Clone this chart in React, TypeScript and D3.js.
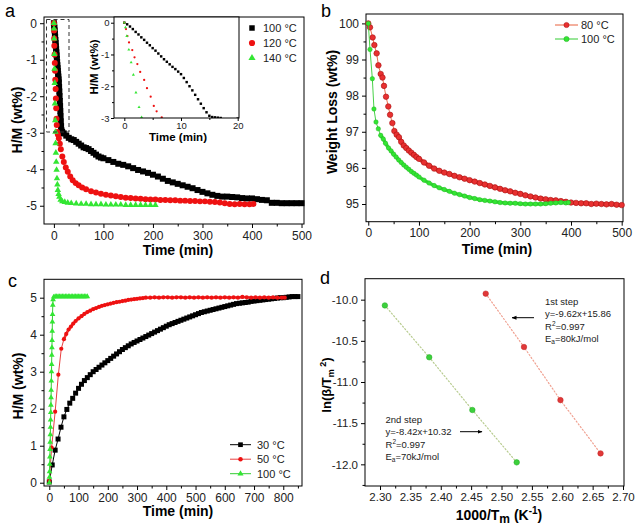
import { useEffect, useRef } from 'react';
import * as d3 from 'd3';

type Pt = [number, number];

const FONT = '"Liberation Sans", Arial, Helvetica, sans-serif';

// ---------- (a) dehydrogenation curves ----------
const aLabels = ['100 °C', '120 °C', '140 °C'];
const a100: Pt[] = [
  [0, 0], [0.5, -0.05], [1, -0.12], [1.5, -0.2], [2, -0.29], [2.5, -0.37], [3, -0.46], [3.5, -0.54],
  [4, -0.63], [4.5, -0.71], [5, -0.8], [5.5, -0.88], [6, -0.97], [6.5, -1.06], [7, -1.15], [7.5, -1.23],
  [8, -1.31], [8.5, -1.39], [9, -1.46], [9.5, -1.54], [10, -1.62], [10.5, -1.74], [11, -1.87], [11.5, -2.0],
  [12, -2.13], [12.5, -2.27], [13, -2.41], [13.5, -2.55], [14, -2.69], [14.5, -2.82], [15, -2.93],
  [15.5, -2.97], [16, -2.98], [16.5, -2.99], [17, -3.0],
  [20, -3.02], [25, -3.08], [30, -3.14], [35, -3.18], [40, -3.2], [45, -3.25], [50, -3.3], [55, -3.35],
  [60, -3.4], [65, -3.42], [70, -3.45], [75, -3.5], [80, -3.55], [85, -3.6], [90, -3.65], [95, -3.68],
  [100, -3.7], [110, -3.75], [120, -3.8], [130, -3.85], [140, -3.88], [150, -3.92], [160, -3.97],
  [170, -4.02], [180, -4.06], [190, -4.1], [200, -4.15], [210, -4.2], [220, -4.26], [230, -4.32],
  [240, -4.36], [250, -4.4], [260, -4.44], [270, -4.48], [280, -4.52], [290, -4.57], [300, -4.62],
  [310, -4.66], [320, -4.7], [330, -4.73], [340, -4.75], [350, -4.75], [360, -4.76], [370, -4.77],
  [380, -4.79], [390, -4.8], [400, -4.8], [410, -4.82], [420, -4.84], [430, -4.85], [440, -4.92],
  [450, -4.92], [460, -4.93], [470, -4.93], [480, -4.93], [490, -4.93], [500, -4.93],
];
const a120: Pt[] = [
  [0, 0], [0.3, -0.2], [0.55, -0.42], [0.83, -0.62], [1.4, -0.86], [1.8, -1.09], [2.3, -1.3], [2.8, -1.55],
  [3.5, -1.8], [4.0, -2.06], [4.65, -2.33], [5.2, -2.62], [5.7, -2.79], [6.6, -2.98], [8, -3.05], [10, -3.15],
  [12, -3.3], [14, -3.45], [17, -3.65], [20, -3.8], [24, -3.95], [28, -4.07], [33, -4.2], [38, -4.3],
  [44, -4.38], [50, -4.44], [57, -4.5], [65, -4.55], [75, -4.6], [85, -4.64], [95, -4.67], [105, -4.7],
  [115, -4.72], [125, -4.74], [135, -4.76], [145, -4.78], [155, -4.79], [165, -4.8], [175, -4.81],
  [185, -4.82], [195, -4.83], [205, -4.83], [215, -4.84], [225, -4.84], [235, -4.85], [245, -4.85],
  [255, -4.86], [265, -4.86], [275, -4.87], [285, -4.87], [295, -4.88], [305, -4.88], [315, -4.89],
  [325, -4.9], [335, -4.91], [345, -4.93], [355, -4.95], [365, -4.96], [375, -4.95], [385, -4.96],
  [395, -4.96], [403, -4.95],
];
const a140: Pt[] = [
  [0, 0], [0.2, -0.15], [0.45, -0.42], [0.8, -0.85], [1.2, -1.25], [1.6, -1.64], [2.05, -2.2], [2.6, -2.66],
  [3.05, -2.98], [3.4, -3.29], [4, -3.55], [4.7, -3.8], [5.4, -4.02], [6.2, -4.25], [7, -4.42], [8, -4.57],
  [9.5, -4.68], [11, -4.76], [13.5, -4.84], [17, -4.88], [22, -4.9], [28, -4.92], [35, -4.93], [45, -4.94],
  [55, -4.95], [65, -4.95], [75, -4.96], [85, -4.96], [95, -4.96], [105, -4.97], [115, -4.97], [125, -4.97],
  [135, -4.97], [145, -4.98], [155, -4.98], [165, -4.98], [175, -4.98], [185, -4.98], [195, -4.98], [205, -4.98],
];
const aXTicks = [0, 100, 200, 300, 400, 500];
const aXMinor = [50, 150, 250, 350, 450];
const aYTicks = [0, -1, -2, -3, -4, -5];
const aYMinor = [-0.5, -1.5, -2.5, -3.5, -4.5];
const inXTicks = [0, 10, 20];
const inXMinor = [5, 15];
const inYTicks = [0, -1, -2, -3];
const inYMinor = [-0.5, -1.5, -2.5];

// ---------- (b) weight loss ----------
const bLabels = ['80 °C', '100 °C'];
const b80: Pt[] = [
  [0, 100], [3.4, 99.89], [8.6, 99.61], [12, 99.4], [16.5, 99.17], [20, 98.84], [24.5, 98.6], [28, 98.5],
  [31, 98.27], [35, 97.97], [39.5, 97.7], [43, 97.47], [47.5, 97.24], [51.5, 97.02], [56, 96.92], [60.5, 96.85],
  [65, 96.72], [70, 96.62], [75, 96.55], [80, 96.48], [85, 96.42], [90, 96.36], [95, 96.3], [100, 96.25],
  [110, 96.15], [120, 96.06], [130, 95.98], [140, 95.92], [150, 95.87], [160, 95.83], [170, 95.78],
  [180, 95.74], [190, 95.7], [200, 95.66], [210, 95.62], [220, 95.58], [230, 95.54], [240, 95.5],
  [250, 95.46], [260, 95.42], [270, 95.38], [280, 95.35], [290, 95.31], [300, 95.28], [310, 95.24],
  [320, 95.21], [330, 95.18], [340, 95.15], [350, 95.13], [360, 95.11], [370, 95.1], [380, 95.08],
  [390, 95.06], [400, 95.04], [410, 95.03], [420, 95.02], [430, 95.02], [440, 95.0], [450, 95.01],
  [460, 95.0], [470, 94.99], [480, 95.0], [490, 94.98], [500, 94.97],
];
const b100: Pt[] = [
  [0, 100], [3.4, 99.28], [8, 98.47], [11.2, 97.63], [15.2, 97.27], [19.8, 97.08], [24.5, 96.9], [29.6, 96.8],
  [34, 96.68], [40, 96.55], [45, 96.47], [50, 96.38], [55, 96.3], [60, 96.22], [65, 96.15], [70, 96.08],
  [75, 96.02], [80, 95.96], [85, 95.9], [90, 95.85], [95, 95.8], [100, 95.75], [110, 95.66], [120, 95.58],
  [130, 95.51], [140, 95.45], [150, 95.4], [160, 95.35], [170, 95.3], [180, 95.26], [190, 95.22],
  [200, 95.18], [210, 95.15], [220, 95.12], [230, 95.1], [240, 95.08], [250, 95.06], [260, 95.04],
  [270, 95.03], [280, 95.02], [290, 95.02], [300, 95.01], [310, 95.0], [320, 95.0], [330, 95.0],
  [340, 95.0], [350, 95.01], [360, 95.02], [370, 95.03], [380, 95.04], [390, 95.03], [395, 95.04],
];
const bXTicks = [0, 100, 200, 300, 400, 500];
const bXMinor = [50, 150, 250, 350, 450];
const bYTicks = [95, 96, 97, 98, 99, 100];
const bYMinor = [95.5, 96.5, 97.5, 98.5, 99.5];

// ---------- (c) hydrogenation ----------
const cLabels = ['30 °C', '50 °C', '100 °C'];
const c30: Pt[] = [
  [0, 0.02], [10, 0.48], [20, 0.88], [30, 1.18], [40, 1.5], [50, 1.78], [60, 1.98], [70, 2.15], [80, 2.28],
  [90, 2.42], [100, 2.55], [110, 2.66], [120, 2.76], [130, 2.84], [140, 2.92], [150, 3.0], [160, 3.06],
  [170, 3.12], [180, 3.18], [190, 3.24], [200, 3.3], [210, 3.36], [220, 3.42], [230, 3.48], [240, 3.54],
  [250, 3.6], [260, 3.65], [270, 3.7], [280, 3.75], [290, 3.79], [300, 3.83], [310, 3.87], [320, 3.91],
  [330, 3.95], [340, 3.99], [350, 4.03], [360, 4.07], [370, 4.11], [380, 4.15], [390, 4.19], [400, 4.23],
  [410, 4.27], [420, 4.3], [430, 4.33], [440, 4.36], [450, 4.39], [460, 4.42], [470, 4.45], [480, 4.48],
  [490, 4.51], [500, 4.54], [510, 4.57], [520, 4.6], [530, 4.62], [540, 4.64], [550, 4.66], [560, 4.68],
  [570, 4.7], [580, 4.72], [590, 4.74], [600, 4.76], [610, 4.78], [620, 4.8], [630, 4.82], [640, 4.84],
  [650, 4.85], [660, 4.86], [670, 4.87], [680, 4.88], [690, 4.9], [700, 4.91], [710, 4.92], [720, 4.93],
  [730, 4.94], [740, 4.95], [750, 4.96], [760, 4.97], [770, 4.98], [780, 4.99], [790, 5.0], [800, 5.0],
  [810, 5.01], [820, 5.02], [830, 5.03], [840, 5.03], [850, 5.03],
];
const c50: Pt[] = [
  [0, 0.05], [8, 0.95], [20, 1.92], [31, 2.92], [41, 3.62], [50, 3.88], [58, 4.02], [66, 4.14], [74, 4.22],
  [82, 4.3], [90, 4.37], [100, 4.44], [110, 4.5], [120, 4.56], [130, 4.61], [140, 4.65], [150, 4.69],
  [160, 4.72], [170, 4.75], [180, 4.78], [190, 4.8], [200, 4.82], [210, 4.84], [220, 4.86], [230, 4.88],
  [240, 4.89], [250, 4.91], [260, 4.92], [270, 4.94], [280, 4.95], [290, 4.96], [300, 4.97], [310, 4.98],
  [320, 4.99], [330, 5.0], [345, 5.0], [360, 5.01], [375, 5.0], [390, 5.01], [405, 5.01], [420, 5.0],
  [435, 5.01], [450, 5.01], [465, 5.0], [480, 5.01], [495, 5.0], [510, 5.01], [525, 5.0], [540, 5.01],
  [555, 5.0], [570, 5.01], [585, 5.0], [600, 5.01], [615, 5.0], [630, 5.01], [645, 5.0], [660, 5.02],
  [675, 5.01], [690, 5.0], [705, 5.01], [720, 5.0], [735, 5.01], [750, 5.0], [765, 5.01], [780, 5.0],
  [795, 5.0], [805, 5.0],
];
const c100: Pt[] = [
  [0, 0], [0.5, 0.15], [1, 0.3], [1.5, 0.5], [2, 0.7], [2.5, 0.9], [3, 1.1], [3.5, 1.3], [4, 1.5], [4.5, 1.7],
  [5, 1.9], [5.5, 2.1], [6, 2.3], [6.5, 2.5], [7, 2.75], [7.5, 3.0], [8, 3.2], [8.5, 3.45], [9, 3.65],
  [9.5, 3.85], [10, 4.1], [10.5, 4.35], [11, 4.55], [12, 4.8], [13, 4.95], [15, 5.02], [20, 5.03], [25, 5.03],
  [30, 5.03], [35, 5.03], [40, 5.03], [45, 5.03], [50, 5.03], [55, 5.03], [60, 5.03], [65, 5.03], [70, 5.03],
  [75, 5.03], [80, 5.03], [85, 5.03], [90, 5.03], [95, 5.03], [100, 5.03], [105, 5.03], [110, 5.03],
  [115, 5.03], [120, 5.03], [125, 5.03], [130, 5.03],
];
const cXTicks = [0, 100, 200, 300, 400, 500, 600, 700, 800];
const cXMinor = [50, 150, 250, 350, 450, 550, 650, 750, 850];
const cYTicks = [0, 1, 2, 3, 4, 5];
const cYMinor = [0.5, 1.5, 2.5, 3.5, 4.5];

// ---------- (d) Kissinger plot ----------
const dStep1: Pt[] = [[2.474, -9.927], [2.537, -10.575], [2.597, -11.22], [2.663, -11.867]];
const dStep2: Pt[] = [[2.308, -10.07], [2.381, -10.7], [2.452, -11.34], [2.525, -11.976]];
const dXTicks = [2.3, 2.35, 2.4, 2.45, 2.5, 2.55, 2.6, 2.65, 2.7];
const dXMinor = [2.325, 2.375, 2.425, 2.475, 2.525, 2.575, 2.625, 2.675];
const dYTicks = [-10, -10.5, -11, -11.5, -12];
const dYMinor = [-10.25, -10.75, -11.25, -11.75, -12.25];
const step1Text = ['1st step', 'y=-9.62x+15.86', 'R2=0.997', 'Ea=80kJ/mol'];
const step2Text = ['2nd step', 'y=-8.42x+10.32', 'R2=0.997', 'Ea=70kJ/mol'];

const BLACK = '#000';
const RED = '#ee1111';
const GREEN = '#33e633';

type G = d3.Selection<SVGGElement, unknown, null, undefined>;
type Lin = d3.ScaleLinear<number, number>;

const hy = (s: string) => s.replace(/\u2212/g, '-');

function axes(g: G, x: Lin, y: Lin, xt: number[], xm: number[], yt: number[], ym: number[],
  xf: (d: number) => string, yf: (d: number) => string, fs = 12, major = 4, minor = 2.5, pad = 3) {
  const [x0, x1] = x.range();
  const [y0, y1] = y.range();
  const style = (a: G) => {
    a.select('.domain').remove();
    a.attr('font-size', fs).attr('font-family', FONT);
    a.selectAll('.tick text').attr('fill', '#222');
    a.selectAll('.tick line').attr('stroke', '#000');
  };
  const bx = g.append('g').attr('transform', `translate(0,${y0})`);
  bx.call(d3.axisBottom(x).tickValues(xt).tickFormat((d) => xf(+d)).tickSize(major).tickPadding(pad).tickSizeOuter(0));
  style(bx);
  const bm = g.append('g').attr('transform', `translate(0,${y0})`);
  bm.call(d3.axisBottom(x).tickValues(xm).tickFormat(() => '').tickSize(minor).tickSizeOuter(0));
  style(bm);
  const ly = g.append('g').attr('transform', `translate(${x0},0)`);
  ly.call(d3.axisLeft(y).tickValues(yt).tickFormat((d) => yf(+d)).tickSize(major).tickPadding(pad).tickSizeOuter(0));
  style(ly);
  const lm = g.append('g').attr('transform', `translate(${x0},0)`);
  lm.call(d3.axisLeft(y).tickValues(ym).tickFormat(() => '').tickSize(minor).tickSizeOuter(0));
  style(lm);
  g.append('rect').attr('x', x0).attr('y', y1).attr('width', x1 - x0).attr('height', y0 - y1)
    .attr('fill', 'none').attr('stroke', '#000').attr('stroke-width', 1);
}

function marks(g: G, data: Pt[], x: Lin, y: Lin, type: d3.SymbolType, size: number,
  fill: string, stroke = 'none', sw = 0) {
  const p = d3.symbol().type(type).size(size)() as string;
  g.append('g').selectAll('path').data(data).join('path')
    .attr('d', p)
    .attr('transform', (d) => `translate(${x(d[0])},${y(d[1])})`)
    .attr('fill', fill).attr('stroke', stroke).attr('stroke-width', sw);
}

function trace(g: G, data: Pt[], x: Lin, y: Lin, color: string, sw = 0.8, dash = '') {
  const line = d3.line<Pt>().x((d) => x(d[0])).y((d) => y(d[1]));
  g.append('path').attr('d', line(data) as string).attr('fill', 'none')
    .attr('stroke', color).attr('stroke-width', sw).attr('stroke-dasharray', dash || null)
    .attr('stroke-linejoin', 'round').attr('stroke-linecap', 'round');
}

function text(g: G, x: number, y: number, s: string, fs: number, opts: { bold?: boolean; anchor?: string; rot?: boolean; fill?: string } = {}) {
  return g.append('text')
    .attr('transform', opts.rot ? `translate(${x},${y}) rotate(-90)` : `translate(${x},${y})`)
    .attr('font-family', FONT).attr('font-size', fs)
    .attr('font-weight', opts.bold ? 'bold' : 'normal')
    .attr('text-anchor', opts.anchor || 'start')
    .attr('fill', opts.fill || '#000')
    .text(s);
}

export default function App() {
  const ref = useRef<SVGSVGElement | null>(null);

  useEffect(() => {
    if (!ref.current) return;
    const svg = d3.select(ref.current);
    svg.selectAll('*').remove();
    const defs = svg.append('defs');
    const root = svg.append('g') as unknown as G;
    const f0 = (d: number) => hy(String(d));

    // ===== panel a =====
    const ga = root.append('g');
    const xa = d3.scaleLinear().domain([-20, 505]).range([44, 304]);
    const ya = d3.scaleLinear().domain([-5.5, 0.17]).range([224, 17]);
    axes(ga, xa, ya, aXTicks, aXMinor, aYTicks, aYMinor, f0, f0);
    marks(ga, a100, xa, ya, d3.symbolSquare, 36, BLACK);
    marks(ga, a120, xa, ya, d3.symbolCircle, 28, RED);
    marks(ga, a140, xa, ya, d3.symbolTriangle, 18, GREEN);
    ga.append('rect').attr('x', 46.5).attr('y', 19.5).attr('width', 22.5).attr('height', 112.5)
      .attr('fill', 'none').attr('stroke', '#333').attr('stroke-width', 1).attr('stroke-dasharray', '4,3');
    text(ga, 5, 17, 'a', 18);
    text(ga, 22, 120, 'H/M (wt%)', 14, { bold: true, anchor: 'middle', rot: true });
    text(ga, 178, 255, 'Time (min)', 14, { bold: true, anchor: 'middle' });
    const aSyms = [d3.symbolSquare, d3.symbolCircle, d3.symbolTriangle];
    const aCols = [BLACK, RED, GREEN];
    aLabels.forEach((lab, i) => {
      const yy = 28 + i * 15;
      ga.append('path').attr('d', d3.symbol().type(aSyms[i]).size(i === 2 ? 22 : 30)() as string)
        .attr('transform', `translate(252,${yy})`).attr('fill', aCols[i]);
      text(ga, 263, yy + 4, lab, 11, { fill: '#222' });
    });

    // inset
    const gi = ga.append('g');
    const xi = d3.scaleLinear().domain([-1.82, 20.23]).range([114, 239]);
    const yi = d3.scaleLinear().domain([-3, 0.18]).range([118, 17]);
    gi.append('rect').attr('x', 114).attr('y', 17).attr('width', 125).attr('height', 101).attr('fill', '#fff');
    defs.append('clipPath').attr('id', 'insetClip')
      .append('rect').attr('x', 114).attr('y', 17).attr('width', 125).attr('height', 101);
    const gic = gi.append('g').attr('clip-path', 'url(#insetClip)');
    const inset = (arr: Pt[]) => arr.filter((d) => d[0] <= 21 && d[1] >= -3.05);
    marks(gic, inset(a100), xi, yi, d3.symbolSquare, 6, BLACK);
    marks(gic, inset(a120), xi, yi, d3.symbolCircle, 4, RED);
    marks(gic, inset(a140), xi, yi, d3.symbolTriangle, 4, GREEN);
    axes(gi, xi, yi, inXTicks, inXMinor, inYTicks, inYMinor, f0, f0, 9.5, 3, 2, 1.5);
    text(gi, 98, 67, 'H/M (wt%)', 11.5, { bold: true, anchor: 'middle', rot: true });
    text(gi, 178, 141, 'Time (min)', 11.5, { bold: true, anchor: 'middle' });

    // ===== panel b =====
    const gb = root.append('g');
    const xb = d3.scaleLinear().domain([-4.5, 502.6]).range([366, 623]);
    const yb = d3.scaleLinear().domain([94.51, 100.26]).range([221.7, 14]);
    axes(gb, xb, yb, bXTicks, bXMinor, bYTicks, bYMinor, f0, f0);
    // dense part of each record reads as a band
    trace(gb, b80.filter((d) => d[0] >= 56), xb, yb, '#e83a30', 4);
    trace(gb, b80, xb, yb, '#e8603c', 0.9);
    marks(gb, b80, xb, yb, d3.symbolCircle, 24, '#e83030', '#a81010', 0.6);
    trace(gb, b100.filter((d) => d[0] >= 24), xb, yb, '#3ce03c', 3.5);
    trace(gb, b100, xb, yb, '#33cc33', 0.9);
    marks(gb, b100, xb, yb, d3.symbolCircle, 16, GREEN, '#22aa22', 0.4);
    text(gb, 321, 17, 'b', 18);
    text(gb, 337, 112, 'Weight Loss (wt%)', 14, { bold: true, anchor: 'middle', rot: true });
    text(gb, 497, 254, 'Time (min)', 14, { bold: true, anchor: 'middle' });
    const bCols: [string, string, string][] = [['#e8603c', '#e83030', '#a81010'], ['#33cc33', GREEN, '#22aa22']];
    bLabels.forEach((lab, i) => {
      const yy = 25 + i * 14;
      gb.append('line').attr('x1', 555).attr('x2', 578).attr('y1', yy).attr('y2', yy).attr('stroke', bCols[i][0]).attr('stroke-width', 1);
      gb.append('circle').attr('cx', 566.5).attr('cy', yy).attr('r', 2.6).attr('fill', bCols[i][1]).attr('stroke', bCols[i][2]).attr('stroke-width', 0.5);
      text(gb, 581, yy + 4, lab, 11, { fill: '#222' });
    });

    // ===== panel c =====
    const gc = root.append('g');
    const xc = d3.scaleLinear().domain([-18.1, 864]).range([44, 302]);
    const yc = d3.scaleLinear().domain([-0.089, 5.497]).range([486, 279.3]);
    axes(gc, xc, yc, cXTicks, cXMinor, cYTicks, cYMinor, f0, f0);
    trace(gc, c30, xc, yc, BLACK, 1);
    marks(gc, c30, xc, yc, d3.symbolSquare, 25, BLACK);
    trace(gc, c50.filter((d) => d[0] >= 50), xc, yc, '#ee2020', 2.5);
    trace(gc, c50, xc, yc, '#e84040', 1);
    marks(gc, c50, xc, yc, d3.symbolCircle, 14, RED);
    trace(gc, c100, xc, yc, '#33cc33', 1);
    marks(gc, c100, xc, yc, d3.symbolTriangle, 14, GREEN);
    text(gc, 8, 287, 'c', 18);
    text(gc, 22.5, 386, 'H/M (wt%)', 14, { bold: true, anchor: 'middle', rot: true });
    text(gc, 178, 516, 'Time (min)', 14, { bold: true, anchor: 'middle' });
    const cSyms = [d3.symbolSquare, d3.symbolCircle, d3.symbolTriangle];
    const cLine = [BLACK, '#e84040', '#33cc33'];
    const cFill = [BLACK, RED, GREEN];
    cLabels.forEach((lab, i) => {
      const yy = 444.7 + i * 14.5;
      gc.append('line').attr('x1', 230).attr('x2', 251).attr('y1', yy).attr('y2', yy).attr('stroke', cLine[i]).attr('stroke-width', 1);
      gc.append('path').attr('d', d3.symbol().type(cSyms[i]).size(i === 0 ? 22 : 16)() as string)
        .attr('transform', `translate(240.5,${yy})`).attr('fill', cFill[i]);
      text(gc, 257, yy + 4, lab, 11, { fill: '#222' });
    });

    // ===== panel d =====
    const gd = root.append('g');
    const xd = d3.scaleLinear().domain([2.2753, 2.7016]).range([365, 624]);
    const yd = d3.scaleLinear().domain([-12.263, -9.7455]).range([486, 278.7]);
    axes(gd, xd, yd, dXTicks, dXMinor, dYTicks, dYMinor,
      (d) => d3.format('.2f')(d), (d) => hy(d3.format('.1f')(d)), 11.5);
    trace(gd, dStep1, xd, yd, '#f0a090', 1.2, '1.2,2.2');
    trace(gd, dStep2, xd, yd, '#b8cc90', 1.2, '1.2,2.2');
    marks(gd, dStep1, xd, yd, d3.symbolCircle, 24, '#e03838', '#c02020', 0.5);
    marks(gd, dStep2, xd, yd, d3.symbolCircle, 24, '#3cd03c', '#22aa22', 0.5);
    text(gd, 320, 284, 'd', 18);

    const ylab = gd.append('text').attr('transform', 'translate(331,385) rotate(-90)')
      .attr('font-family', FONT).attr('font-size', 13).attr('font-weight', 'bold').attr('text-anchor', 'middle');
    ylab.append('tspan').text('ln(β/T');
    ylab.append('tspan').attr('dy', 3).attr('font-size', 9).text('m');
    ylab.append('tspan').attr('dy', -8).attr('font-size', 9).text(' 2');
    ylab.append('tspan').attr('dy', 5).text(')');

    const xlab = gd.append('text').attr('transform', 'translate(499,520)')
      .attr('font-family', FONT).attr('font-size', 14).attr('font-weight', 'bold').attr('text-anchor', 'middle');
    xlab.append('tspan').text('1000/T');
    xlab.append('tspan').attr('dy', 3).attr('font-size', 12).text('m');
    xlab.append('tspan').attr('dy', -3).text(' (K');
    xlab.append('tspan').attr('dy', -6).attr('font-size', 10).text('-1');
    xlab.append('tspan').attr('dy', 6).text(')');

    const anno = (x0: number, y0: number, lines: string[]) => {
      lines.forEach((s, i) => {
        const t = gd.append('text').attr('x', x0).attr('y', y0 + i * 12.3)
          .attr('font-family', FONT).attr('font-size', 9.5).attr('fill', '#222');
        if (s.startsWith('R2')) {
          t.append('tspan').text('R');
          t.append('tspan').attr('dy', -3.5).attr('font-size', 6.5).text('2');
          t.append('tspan').attr('dy', 3.5).text(s.slice(2));
        } else if (s.startsWith('Ea')) {
          t.append('tspan').text('E');
          t.append('tspan').attr('dy', 2).attr('font-size', 6.5).text('a');
          t.append('tspan').attr('dy', -2).text(s.slice(2));
        } else t.text(s);
      });
    };
    anno(545, 305, step1Text);
    anno(385.5, 423, step2Text);

    defs.append('marker').attr('id', 'arr').attr('viewBox', '0 0 10 10').attr('refX', 9).attr('refY', 5)
      .attr('markerWidth', 5).attr('markerHeight', 5).attr('orient', 'auto-start-reverse')
      .append('path').attr('d', 'M0,1 L10,5 L0,9 z').attr('fill', '#000');
    gd.append('line').attr('x1', 534).attr('x2', 512).attr('y1', 317.7).attr('y2', 317.7)
      .attr('stroke', '#000').attr('stroke-width', 1).attr('marker-end', 'url(#arr)');
    gd.append('line').attr('x1', 460).attr('x2', 482).attr('y1', 431.7).attr('y2', 431.7)
      .attr('stroke', '#000').attr('stroke-width', 1).attr('marker-end', 'url(#arr)');
  }, []);

  return (
    <svg ref={ref} width={640} height={525}
      style={{ position: 'absolute', left: 0, top: 0, background: '#fff', display: 'block' }} />
  );
}
